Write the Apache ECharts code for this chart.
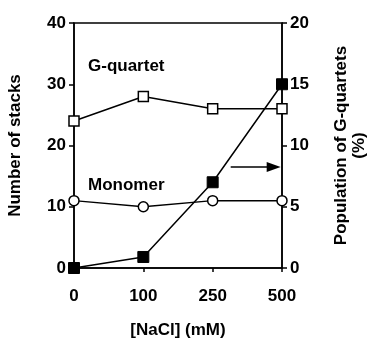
<!DOCTYPE html>
<html>
<head>
<meta charset="utf-8">
<script src="https://cdn.jsdelivr.net/npm/echarts@6/dist/echarts.min.js"></script>
<style>
  html, body { margin: 0; padding: 0; background: #fff; }
  #chart { width: 370px; height: 339px; }
</style>
</head>
<body>
<div id="chart"></div>
<script>
// [NaCl] concentrations (mM), evenly spaced on the plot
const nacl = ['0', '100', '250', '500'];
// number of stacks (left axis)
const gQuartet = [24, 28, 26, 26];
const monomer = [11, 10, 11, 11];
// population of G-quartets, % (right axis)
const population = [0, 0.9, 7, 15];

const leftTicks = [0, 10, 20, 30, 40];
const rightTicks = [0, 5, 10, 15, 20];

const chart = echarts.init(document.getElementById('chart'));

const font = 'Liberation Sans, Arial, sans-serif';
const black = '#000';
const fs = 17;

const pts = arr => arr.map((v, i) => [i, v]);

const option = {
  animation: false,
  backgroundColor: '#fff',
  grid: {
    left: 74, right: 88, top: 23, bottom: 71,
    outerBoundsMode: 'none', containLabel: false,
    show: true, borderColor: black, borderWidth: 1.5, backgroundColor: 'transparent'
  },
  xAxis: {
    type: 'value', min: 0, max: nacl.length - 1, interval: 1,
    name: '[NaCl] (mM)', nameLocation: 'middle', nameGap: 54,
    nameTextStyle: { fontFamily: font, fontWeight: 'bold', fontSize: fs, color: black },
    axisLine: { onZero: false, lineStyle: { color: black, width: 1.5 } },
    axisTick: { show: true, length: 4, lineStyle: { color: black, width: 1.5 } },
    splitLine: { show: false },
    axisLabel: {
      formatter: v => nacl[v] || '', margin: 20,
      fontFamily: font, fontWeight: 'bold', fontSize: fs, color: black
    }
  },
  yAxis: [
    {
      type: 'value', min: 0, max: 40, interval: 10, position: 'left',
      name: 'Number of stacks', nameLocation: 'middle', nameGap: 50, nameRotate: 90,
      nameTextStyle: { fontFamily: font, fontWeight: 'bold', fontSize: fs, color: black },
      axisLine: { show: true, onZero: false, lineStyle: { color: black, width: 1.5 } },
      axisTick: { show: true, length: 5, lineStyle: { color: black, width: 1.5 } },
      splitLine: { show: false },
      axisLabel: {
        formatter: v => leftTicks.includes(v) ? String(v) : '', margin: 8,
        fontFamily: font, fontWeight: 'bold', fontSize: fs, color: black
      }
    },
    {
      type: 'value', min: 0, max: 20, interval: 5, position: 'right',
      name: 'Population of G-quartets\n(%)', nameLocation: 'middle', nameGap: 50, nameRotate: 90,
      nameTextStyle: { fontFamily: font, fontWeight: 'bold', fontSize: fs, color: black, lineHeight: 18 },
      axisLine: { show: true, onZero: false, lineStyle: { color: black, width: 1.5 } },
      axisTick: { show: true, length: 5, lineStyle: { color: black, width: 1.5 } },
      splitLine: { show: false },
      axisLabel: {
        formatter: v => rightTicks.includes(v) ? String(v) : '', margin: 8,
        fontFamily: font, fontWeight: 'bold', fontSize: fs, color: black
      }
    }
  ],
  series: [
    {
      name: 'G-quartet', type: 'line', yAxisIndex: 0, data: pts(gQuartet),
      symbol: 'rect', symbolSize: 10,
      lineStyle: { color: black, width: 1.5 },
      itemStyle: { color: '#fff', borderColor: black, borderWidth: 1.5 },
      z: 3
    },
    {
      name: 'Monomer', type: 'line', yAxisIndex: 0, data: pts(monomer),
      symbol: 'circle', symbolSize: 10,
      lineStyle: { color: black, width: 1.5 },
      itemStyle: { color: '#fff', borderColor: black, borderWidth: 1.5 },
      z: 3
    },
    {
      name: 'Population', type: 'line', yAxisIndex: 1, data: pts(population),
      symbol: 'rect', symbolSize: 11,
      lineStyle: { color: black, width: 1.5 },
      itemStyle: { color: black, borderColor: black },
      z: 4,
      markLine: {
        silent: true, symbol: ['none', 'triangle'], symbolSize: [10, 14],
        lineStyle: { color: black, width: 1.5, type: 'solid' },
        label: { show: false },
        data: [[{ coord: [2.26, 8.25] }, { coord: [2.88, 8.25] }]]
      }
    }
  ],
  graphic: [
    {
      type: 'text', left: 88, top: 58,
      style: { text: 'G-quartet', font: 'bold ' + fs + 'px ' + font, fill: black }
    },
    {
      type: 'text', left: 88, top: 177,
      style: { text: 'Monomer', font: 'bold ' + fs + 'px ' + font, fill: black }
    }
  ]
};

chart.setOption(option);
</script>
</body>
</html>
